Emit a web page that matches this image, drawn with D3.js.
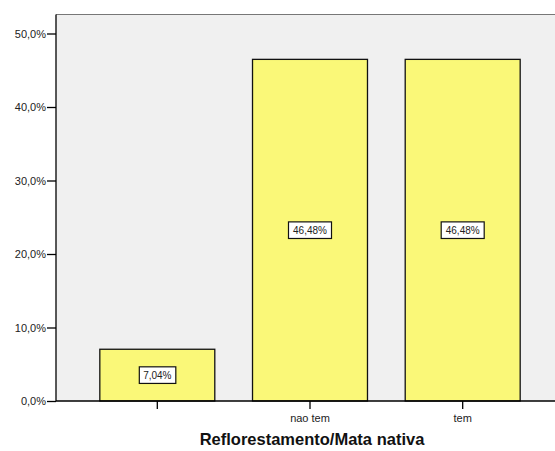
<!DOCTYPE html>
<html>
<head>
<meta charset="utf-8">
<script src="https://cdn.jsdelivr.net/npm/d3@7"></script>
<style>
  body { margin: 0; background: #fff; }
  text { font-family: "Liberation Sans", Arial, sans-serif; }
</style>
</head>
<body>
<div id="chart"></div>
<script>
// data
var categories = ["", "nao tem", "tem"];
var percents = [7.04, 46.48, 46.48];
var valueLabels = ["7,04%", "46,48%", "46,48%"];
var yTicks = [0, 10, 20, 30, 40, 50];

var W = 555, H = 451;
var plotLeft = 56, plotTop = 14.5, plotBottom = 401, plotRight = 564;

var svg = d3.select("#chart").append("svg")
  .attr("width", W).attr("height", H);

// plot background
svg.append("rect")
  .attr("x", plotLeft).attr("y", plotTop)
  .attr("width", plotRight - plotLeft).attr("height", plotBottom - plotTop)
  .style("fill", "#f0f0f0");
svg.append("line")
  .attr("x1", plotLeft).attr("x2", plotRight).attr("y1", plotTop).attr("y2", plotTop)
  .style("stroke", "#777").style("stroke-width", 1);

var x = d3.scaleBand()
  .domain(categories)
  .range([plotLeft, plotRight])
  .paddingInner(0.247)
  .paddingOuter(0.287);

var y = d3.scaleLinear()
  .domain([0, 50])
  .range([plotBottom, plotBottom - 5 * 73.5]);

//bars
svg.selectAll(".bar")
  .data(percents)
  .enter()
  .append("rect")
  .attr("class", "bar")
  .attr("x", function(d, i) { return x(categories[i]); })
  .attr("y", function(d) { return y(d); })
  .attr("width", x.bandwidth())
  .attr("height", function(d) { return y(0) - y(d); })
  .style("fill", "#faf878")
  .style("stroke", "#111")
  .style("stroke-width", 1.3);

//value labels in white boxes
var lab = svg.selectAll(".lab")
  .data(percents)
  .enter()
  .append("g")
  .attr("transform", function(d, i) {
    return "translate(" + (x(categories[i]) + x.bandwidth() / 2) + "," + ((y(d) + y(0)) / 2) + ")";
  });
lab.append("rect")
  .attr("x", function(d, i) { return i == 0 ? -18 : -21.5; })
  .attr("y", -8.3)
  .attr("width", function(d, i) { return i == 0 ? 36.5 : 43; })
  .attr("height", 16.6)
  .style("fill", "#fff").style("stroke", "#111").style("stroke-width", 1.2);
lab.append("text")
  .attr("text-anchor", "middle")
  .attr("dy", "0.35em")
  .style("font-size", "10px")
  .style("fill", "#222")
  .text(function(d, i) { return valueLabels[i]; });

//y axis
var yAxis = svg.append("g")
  .attr("transform", "translate(" + plotLeft + ",0)")
  .call(d3.axisLeft(y).tickValues(yTicks).tickSize(9).tickPadding(1)
    .tickFormat(function(d) { return d3.format(".1f")(d).replace(".", ",") + "%"; }));
yAxis.select(".domain").attr("d", "M0," + plotTop + "V" + plotBottom).style("stroke", "#000").style("stroke-width", 1.3);
yAxis.selectAll(".tick line").style("stroke", "#000").style("stroke-width", 1.3);
yAxis.selectAll("text").style("font-size", "11px").style("fill", "#222")
  .style("font-family", "'Liberation Sans', Arial, sans-serif");

//x axis
var xAxis = svg.append("g")
  .attr("transform", "translate(0," + plotBottom + ")")
  .call(d3.axisBottom(x).tickSize(8).tickPadding(5));
xAxis.select(".domain").attr("d", "M" + plotLeft + ",0H" + plotRight).style("stroke", "#000").style("stroke-width", 1.3);
xAxis.selectAll(".tick line").style("stroke", "#000").style("stroke-width", 1.3);
xAxis.selectAll("text").style("font-size", "11px").style("fill", "#222")
  .style("font-family", "'Liberation Sans', Arial, sans-serif");

//x title
svg.append("text")
  .attr("x", 312).attr("y", 445)
  .attr("text-anchor", "middle")
  .style("font-size", "16.5px").style("font-weight", "bold").style("fill", "#111")
  .text("Reflorestamento/Mata nativa");
</script>
</body>
</html>
